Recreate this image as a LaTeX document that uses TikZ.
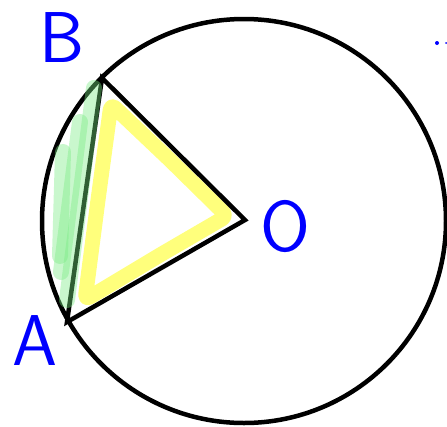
\documentclass[tikz,border=0pt]{standalone}
\usepackage{tikz}

\definecolor{paleGreen}{RGB}{120,235,130}
\definecolor{brightYellow}{RGB}{255,255,110}

\tikzset{
  pen/.style={line width=4.5pt},
  lbl/.style={text=blue,font=\sffamily\fontsize{72}{72}\selectfont,inner sep=0pt},
  hlgreen/.style={paleGreen,opacity=0.4,line width=16pt,line cap=round},
  hlyellow/.style={brightYellow,opacity=0.9,line width=15pt,line cap=round,line join=round,rounded corners=6pt}
}

\begin{document}
\begin{tikzpicture}[x=1pt,y=-1pt]
  \useasboundingbox (0,0) rectangle (447,426);
  % points on the circle and its centre
  \coordinate (O) at (245,220);
  \coordinate (B) at (102,78);
  \coordinate (A) at (67,322);
  % yellow highlight inside the triangle
  \draw[hlyellow] (111,104) -- (98,200) -- (85,300) -- (160,255) -- (227,216) -- (170,160) -- cycle;
  % circle and triangle
  \draw[pen] (244,221) circle (202);
  \draw[pen,line join=miter] (A) -- (B) -- (O) -- cycle;
  % green highlight along the chord
  \draw[hlgreen] (94,88) -- (67,300);
  \draw[hlgreen] (80,122) -- (61,272);
  \draw[hlgreen] (63,152) -- (60,256);
  % labels
  \node[lbl] (labB) at (62,38) {B};
  \node[lbl] (labA) at (35,341) {A};
  \node[lbl] (labO) at (285,227) {O};
  % stray marks top right
  \fill[blue] (437,43) circle (2);
  \fill[blue] (446,43) circle (1);
\end{tikzpicture}
\end{document}
